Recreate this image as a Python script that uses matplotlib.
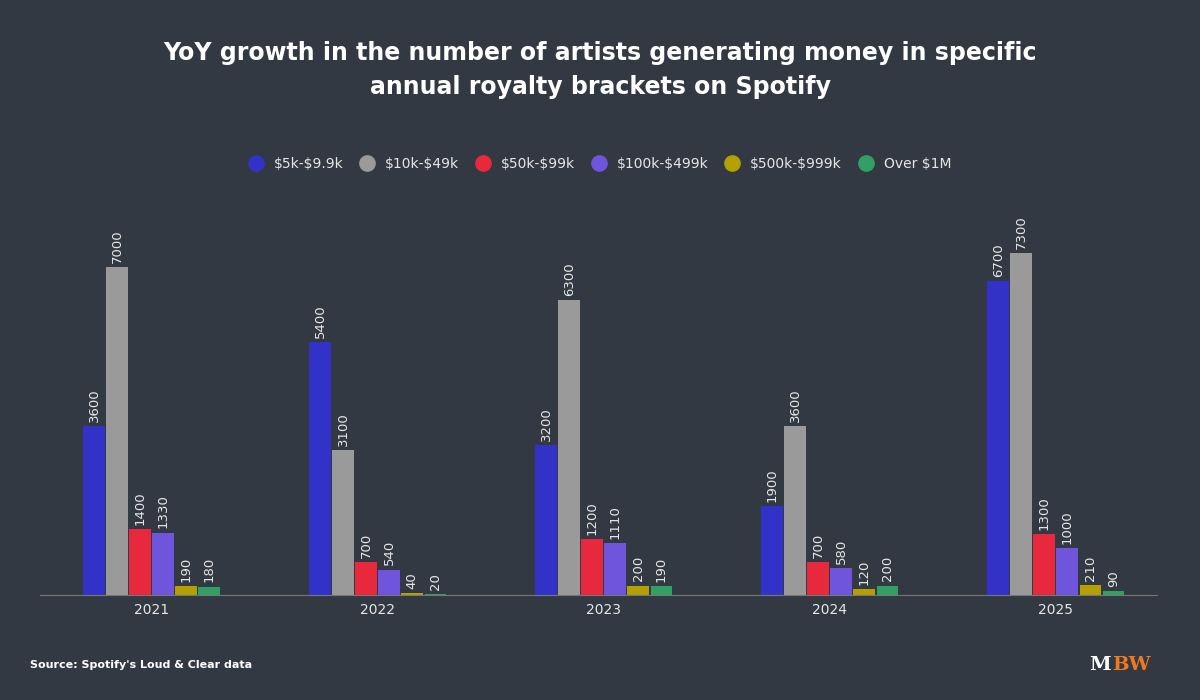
from matplotlib import pyplot as plt
from matplotlib.lines import Line2D
import numpy as np

years = ['2021', '2022', '2023', '2024', '2025']
brackets = [r'\$5k-\$9.9k', r'\$10k-\$49k', r'\$50k-\$99k', r'\$100k-\$499k', r'\$500k-\$999k', r'Over \$1M']
v_5k = [3600, 5400, 3200, 1900, 6700]
v_10k = [7000, 3100, 6300, 3600, 7300]
v_50k = [1400, 700, 1200, 700, 1300]
v_100k = [1330, 540, 1110, 580, 1000]
v_500k = [190, 40, 200, 120, 210]
v_1m = [180, 20, 190, 200, 90]
series = [v_5k, v_10k, v_50k, v_100k, v_500k, v_1m]
colors = ['#3232c8', '#9a9a9a', '#e8283c', '#6e55dc', '#b4a000', '#32a064']

bg = '#333942'
plt.figure(figsize=(12, 7), dpi=100, facecolor=bg)
ax = plt.axes([0.033, 0.15, 0.931, 0.564], facecolor=bg)

x = np.arange(len(years))
w = 0.096
step = 0.102
for i, vals in enumerate(series):
    pos = x + (i - 2.5) * step
    plt.bar(pos, vals, width=w, color=colors[i])
    for p, v in zip(pos, vals):
        plt.text(p, v + 90, str(v), rotation=90, ha='center', va='bottom',
                 color='#e6e6e6', fontsize=9.5)

plt.xlim(-0.496, 4.447)
plt.ylim(0, 8430)
plt.xticks(x, years, color='#e6e6e6', fontsize=10)
plt.yticks([])
ax.tick_params(axis='x', length=0, pad=6)
for s in ['top', 'right', 'left']:
    ax.spines[s].set_visible(False)
ax.spines['bottom'].set_color('#777777')

plt.figtext(0.5, 0.9, 'YoY growth in the number of artists generating money in specific\nannual royalty brackets on Spotify',
            ha='center', va='center', color='white', fontsize=17, fontweight='bold', linespacing=1.55)
plt.figtext(0.025, 0.045, "Source: Spotify's Loud & Clear data", color='white', fontsize=8, fontweight='bold')
plt.figtext(0.908, 0.043, 'M', color='white', fontsize=14, fontweight='bold', family='DejaVu Serif')
plt.figtext(0.927, 0.043, 'BW', color='#f07820', fontsize=14, fontweight='bold', family='DejaVu Serif')

# round markers in the legend
handles = [Line2D([], [], marker='o', linestyle='', markersize=11, color=c) for c in colors]
plt.legend(handles, brackets, loc='center', bbox_to_anchor=(0.5, 0.766), bbox_transform=plt.gcf().transFigure,
           ncol=6, frameon=False, labelcolor='#e6e6e6', fontsize=10, handlelength=1,
           columnspacing=1.2, handletextpad=0.8)

plt.savefig('out.png', facecolor=bg)
